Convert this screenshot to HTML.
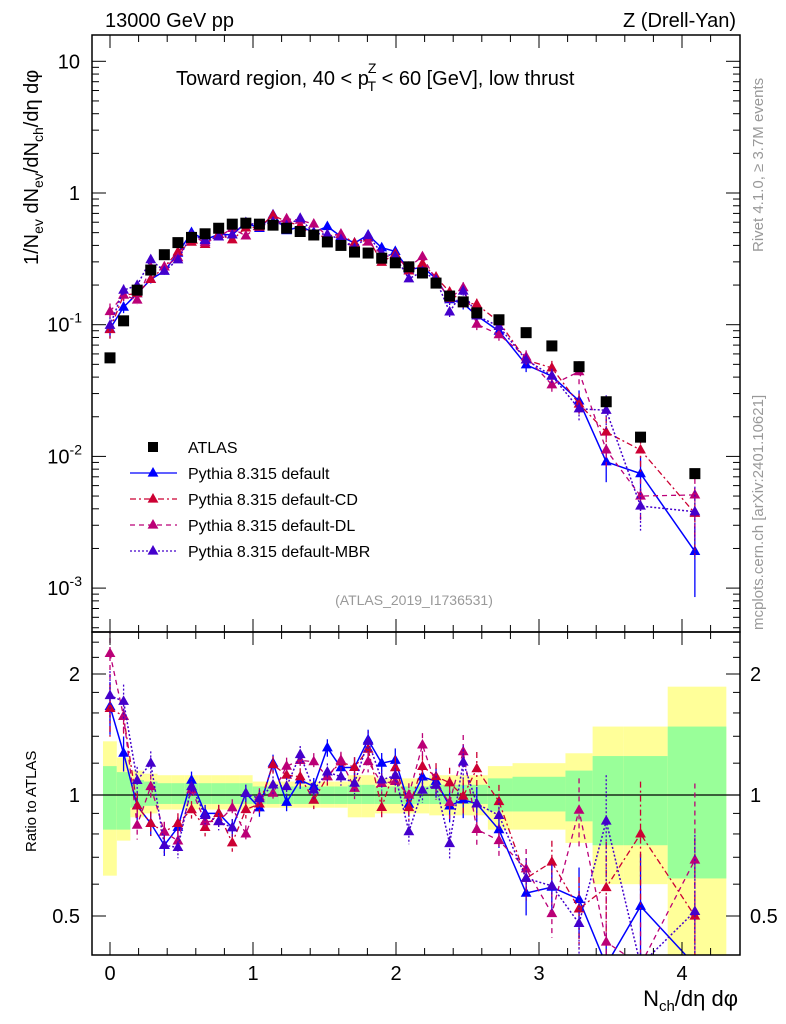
<!DOCTYPE html>
<html><head><meta charset="utf-8"><style>
html,body{margin:0;padding:0;background:#fff;width:786px;height:1024px;overflow:hidden}
svg{display:block;font-family:"Liberation Sans",sans-serif}
</style></head><body>
<svg id="chart" width="786" height="1024" viewBox="0 0 786 1024" xmlns="http://www.w3.org/2000/svg">
<rect x="0" y="0" width="786" height="1024" fill="#fff"/>
<g id="bands"></g>
<g id="marks"></g>
<g id="axes"></g>
<text x="105" y="27" font-size="20">13000 GeV pp</text>
<text x="736" y="27" font-size="20" text-anchor="end">Z (Drell-Yan)</text>
<text x="176" y="85" font-size="20">Toward region, 40 &lt; p<tspan font-size="14" dx="-1" dy="-12">Z</tspan><tspan font-size="14" dx="-9" dy="18">T</tspan><tspan dy="-6"> &lt; 60 [GeV], low thrust</tspan></text>
<text transform="translate(38,265) rotate(-90)" font-size="20">1/N<tspan font-size="14" dy="5">ev</tspan><tspan dy="-5"> dN</tspan><tspan font-size="14" dy="5">ev</tspan><tspan dy="-5">/dN</tspan><tspan font-size="14" dy="5">ch</tspan><tspan dy="-5">/dη dφ</tspan></text>
<text transform="translate(36,852) rotate(-90)" font-size="15">Ratio to ATLAS</text>
<text x="738" y="1006" font-size="22" text-anchor="end">N<tspan font-size="15" dy="5">ch</tspan><tspan dy="-5">/dη dφ</tspan></text>
<text transform="translate(763,252) rotate(-90)" font-size="15" fill="#999">Rivet 4.1.0, ≥ 3.7M events</text>
<text transform="translate(763,630) rotate(-90)" font-size="15" fill="#999">mcplots.cern.ch [arXiv:2401.10621]</text>
<text x="414" y="605" font-size="14" fill="#999" text-anchor="middle">(ATLAS_2019_I1736531)</text>
<g id="legend"></g>
</svg>
<script>
const xs = [0,0.095,0.19,0.285,0.38,0.475,0.57,0.665,0.76,0.855,0.95,1.045,1.14,1.235,1.33,1.425,1.52,1.615,1.71,1.805,1.9,1.995,2.09,2.185,2.28,2.375,2.47,2.565,2.72,2.91,3.09,3.28,3.47,3.71,4.09];
const atlas = [0.056,0.107,0.183,0.26,0.34,0.42,0.46,0.49,0.54,0.58,0.59,0.58,0.57,0.54,0.51,0.48,0.425,0.40,0.356,0.35,0.32,0.295,0.275,0.247,0.207,0.165,0.149,0.123,0.109,0.087,0.069,0.048,0.026,0.014,0.0074];
const pyDefault = [0.093,0.136,0.172,0.221,0.255,0.349,0.501,0.441,0.486,0.481,0.596,0.539,0.684,0.518,0.556,0.504,0.557,0.468,0.417,0.480,0.384,0.360,0.261,0.274,0.224,0.155,0.145,0.117,0.0894,0.0496,0.0407,0.0264,0.0091,0.0074,0.0019];
const pyCD = [0.092,0.168,0.172,0.221,0.275,0.357,0.423,0.407,0.486,0.441,0.543,0.551,0.678,0.605,0.566,0.466,0.472,0.484,0.417,0.455,0.298,0.345,0.256,0.291,0.230,0.177,0.148,0.143,0.105,0.054,0.047,0.025,0.0153,0.0112,0.0037];
const pyDL = [0.126,0.168,0.154,0.273,0.275,0.323,0.474,0.421,0.464,0.539,0.472,0.574,0.576,0.637,0.622,0.581,0.472,0.488,0.370,0.424,0.342,0.319,0.275,0.329,0.219,0.158,0.191,0.101,0.084,0.057,0.035,0.044,0.0112,0.0050,0.0051];
const pyMBR = [0.099,0.183,0.199,0.312,0.255,0.311,0.483,0.436,0.464,0.481,0.596,0.568,0.604,0.567,0.643,0.494,0.485,0.444,0.381,0.476,0.349,0.330,0.223,0.254,0.219,0.125,0.180,0.117,0.097,0.054,0.041,0.023,0.0224,0.0042,0.0038];
const mcRelErr = [0.15,0.1,0.08,0.07,0.06,0.06,0.05,0.05,0.05,0.05,0.05,0.05,0.05,0.05,0.05,0.05,0.05,0.05,0.06,0.06,0.06,0.07,0.07,0.07,0.08,0.09,0.1,0.1,0.1,0.12,0.13,0.2,0.3,0.35,0.55];
const yellowHi = [1.36,1.24,1.15,1.13,1.12,1.12,1.12,1.12,1.12,1.12,1.12,1.08,1.08,1.08,1.08,1.08,1.08,1.08,1.12,1.12,1.10,1.10,1.10,1.10,1.12,1.12,1.12,1.12,1.18,1.20,1.20,1.27,1.48,1.48,1.86];
const yellowLo = [0.63,0.77,0.88,0.90,0.92,0.92,0.92,0.92,0.92,0.92,0.92,0.93,0.93,0.93,0.93,0.93,0.93,0.93,0.88,0.88,0.90,0.90,0.90,0.90,0.89,0.89,0.89,0.89,0.82,0.82,0.82,0.76,0.60,0.60,0.30];
const greenHi = [1.18,1.14,1.09,1.08,1.07,1.07,1.07,1.07,1.07,1.07,1.07,1.05,1.05,1.05,1.05,1.05,1.05,1.05,1.06,1.06,1.05,1.05,1.05,1.05,1.06,1.06,1.06,1.06,1.10,1.11,1.11,1.15,1.25,1.25,1.48];
const greenLo = [0.82,0.82,0.93,0.94,0.95,0.95,0.95,0.95,0.95,0.95,0.95,0.95,0.95,0.95,0.95,0.95,0.95,0.95,0.95,0.95,0.95,0.95,0.95,0.95,0.95,0.95,0.95,0.95,0.91,0.91,0.91,0.86,0.75,0.75,0.62];
const mainTickLabels = ["10","1","10","10","10"];
const ratioTickLabels = ["2","1","0.5"];
const xTickLabels = ["0","1","2","3","4"];

const NS = "http://www.w3.org/2000/svg";
const L = 92, R = 740, T = 35, MB = 632, RB = 955;
function X(v){ return 110 + 143 * v; }
function cl(y, a, b){ return Math.max(a, Math.min(b, y)); }
function Ym(v){ return cl(193 - 131.7 * Math.log10(v), T - 10, MB + 10); }
function Yr(r){ return cl(795 - 121 * Math.log2(r), MB - 10, RB + 10); }
function mk(tag, attrs, parent){ const e = document.createElementNS(NS, tag); for (const k in attrs) e.setAttribute(k, attrs[k]); parent.appendChild(e); return e; }
const bands = document.getElementById('bands'), marks = document.getElementById('marks'), axes = document.getElementById('axes'), legend = document.getElementById('legend');

const defs = mk('defs', {}, document.getElementById('chart'));
const c1 = mk('clipPath', {id:'cm'}, defs); mk('rect', {x:L, y:T, width:R-L, height:MB-T}, c1);
const c2 = mk('clipPath', {id:'cr'}, defs); mk('rect', {x:L, y:MB, width:R-L, height:RB-MB}, c2);
bands.setAttribute('clip-path', 'url(#cr)');

for (let i = 0; i < xs.length; i++) {
  const x0 = i === 0 ? X(xs[0]) - 7 : (X(xs[i-1]) + X(xs[i])) / 2;
  const x1 = i === xs.length - 1 ? X(4.31) : (X(xs[i]) + X(xs[i+1])) / 2;
  const ytop = cl(Yr(yellowHi[i]), MB, RB), ybot = cl(Yr(yellowLo[i]), MB, RB);
  const yb = mk('rect', {x:x0, y:ytop, width:x1-x0, height:ybot-ytop, fill:'#ffff99'}, bands);
  
  
  const gtop = cl(Yr(greenHi[i]), MB, RB), gbot = cl(Yr(greenLo[i]), MB, RB);
  const gb = mk('rect', {x:x0, y:gtop, width:x1-x0, height:gbot-gtop, fill:'#99ff99'}, bands);
  
  
}
mk('line', {x1:L, x2:R, y1:Yr(1), y2:Yr(1), stroke:'#000', 'stroke-width':1.3}, bands);

const series = [
  {name:'default', vals:pyDefault, color:'#0000ff', dash:'', w:1.5},
  {name:'default-cd', vals:pyCD, color:'#cc0033', dash:'6,3,2,3', w:1.3},
  {name:'default-dl', vals:pyDL, color:'#bb0077', dash:'5,4', w:1.3},
  {name:'default-mbr', vals:pyMBR, color:'#4400cc', dash:'2,2', w:1.5}
];
function tri(x, y, s){ return `${x},${y-s} ${x-s*0.9},${y+s*0.6} ${x+s*0.9},${y+s*0.6}`; }

const gm = mk('g', {'clip-path':'url(#cm)'}, marks);


const gr = mk('g', {'clip-path':'url(#cr)'}, marks);



series.forEach(s => {
  const sg = mk('g', {}, gm);
  
  
  const rg = mk('g', {}, gr);
  
  
  const pm = [], pr = [];
  s.vals.forEach((v, i) => {
    const x = X(xs[i]), e = mcRelErr[i];
    pm.push(x + ',' + Ym(v));
    const r = v / atlas[i];
    pr.push(x + ',' + Yr(r));
    mk('line', {x1:x, x2:x, y1:Ym(v*(1+e)), y2:Ym(Math.max(v*(1-e), 1e-6)), stroke:s.color, 'stroke-width':1.3, 'stroke-dasharray':s.dash}, sg);
    const pt = mk('polygon', {points:tri(x, Ym(v), 6), fill:s.color}, sg);
    
    
    mk('line', {x1:x, x2:x, y1:Yr(r*(1+e)), y2:Yr(Math.max(r*(1-e), 1e-3)), stroke:s.color, 'stroke-width':1.3, 'stroke-dasharray':s.dash}, rg);
    const rp = mk('polygon', {points:tri(x, Yr(r), 6), fill:s.color}, rg);
    
    
  });
  mk('polyline', {points:pm.join(' '), fill:'none', stroke:s.color, 'stroke-width':s.w, 'stroke-dasharray':s.dash}, sg);
  mk('polyline', {points:pr.join(' '), fill:'none', stroke:s.color, 'stroke-width':s.w, 'stroke-dasharray':s.dash}, rg);
});
atlas.forEach((v, i) => {
  const sq = mk('rect', {x:X(xs[i])-5.5, y:Ym(v)-5.5, width:11, height:11, fill:'#000'}, gm);
  
  
});

mk('rect', {x:L, y:T, width:R-L, height:MB-T, fill:'none', stroke:'#000', 'stroke-width':1.5}, axes);
mk('rect', {x:L, y:MB, width:R-L, height:RB-MB, fill:'none', stroke:'#000', 'stroke-width':1.5}, axes);
for (let k = 0; k <= 21; k++) {
  const v = k * 0.2, x = X(v); if (x > R) break;
  const major = k % 5 === 0, len = major ? 13 : 7;
  [[T, 1], [MB, -1], [MB, 1], [RB, -1]].forEach(([y0, d]) => mk('line', {x1:x, x2:x, y1:y0, y2:y0 + d*len, stroke:'#000', 'stroke-width':1}, axes));
  if (major) {
    const t = mk('text', {x:x, y:980, 'font-size':20, 'text-anchor':'middle'}, axes);
    t.textContent = xTickLabels[k/5];
    
    
  }
}
const decades = [1, 0, -1, -2, -3];
for (let d = -4; d <= 1; d++) for (let m = 1; m <= 9; m++) {
  const raw = 193 - 131.7 * Math.log10(m * Math.pow(10, d)); if (raw < T || raw > MB) continue;
  const len = m === 1 ? 14 : 7;
  mk('line', {x1:L, x2:L+len, y1:raw, y2:raw, stroke:'#000', 'stroke-width':1}, axes);
  mk('line', {x1:R, x2:R-len, y1:raw, y2:raw, stroke:'#000', 'stroke-width':1}, axes);
}
decades.forEach((d, i) => {
  const y = Ym(Math.pow(10, d));
  const t = mk('text', {x:80, y:y+7, 'font-size':20, 'text-anchor':'end'}, axes);
  
  
  t.textContent = mainTickLabels[i];
  if (d < 0) { const s = mk('tspan', {'font-size':14, dy:-9}, t); s.textContent = String(d); t.setAttribute('x', 82); }
});
[0.5,0.6,0.7,0.8,0.9,1,1.2,1.4,1.6,1.8,2,2.2,2.4].forEach(r => {
  const y = Yr(r); const major = (r === 0.5 || r === 1 || r === 2), len = major ? 14 : 7;
  mk('line', {x1:L, x2:L+len, y1:y, y2:y, stroke:'#000', 'stroke-width':1}, axes);
  mk('line', {x1:R, x2:R-len, y1:y, y2:y, stroke:'#000', 'stroke-width':1}, axes);
});
[2, 1, 0.5].forEach((r, i) => {
  const y = Yr(r);
  const t = mk('text', {x:80, y:y+7, 'font-size':20, 'text-anchor':'end'}, axes);
  t.textContent = ratioTickLabels[i];
  
  
  const t2 = mk('text', {x:750, y:y+7, 'font-size':20}, axes);
  t2.textContent = ratioTickLabels[i];
  
  
});

const lg = [{label:'ATLAS'}].concat(series.map(s => ({label:'Pythia 8.315 ' + s.name.replace('-cd','-CD').replace('-dl','-DL').replace('-mbr','-MBR'), s:s})));
lg.forEach((e, i) => {
  const y = 447 + i * 26;
  const g = mk('g', {}, legend);
  
  
  if (!e.s) mk('rect', {x:148, y:y-5, width:10, height:10, fill:'#000'}, g);
  else {
    mk('line', {x1:130, x2:177, y1:y, y2:y, stroke:e.s.color, 'stroke-width':1.3, 'stroke-dasharray':e.s.dash}, g);
    mk('polygon', {points:tri(153, y, 6), fill:e.s.color}, g);
  }
  const t = mk('text', {x:188, y:y+6, 'font-size':16}, g);
  t.textContent = e.label;
});
</script>
</body></html>
